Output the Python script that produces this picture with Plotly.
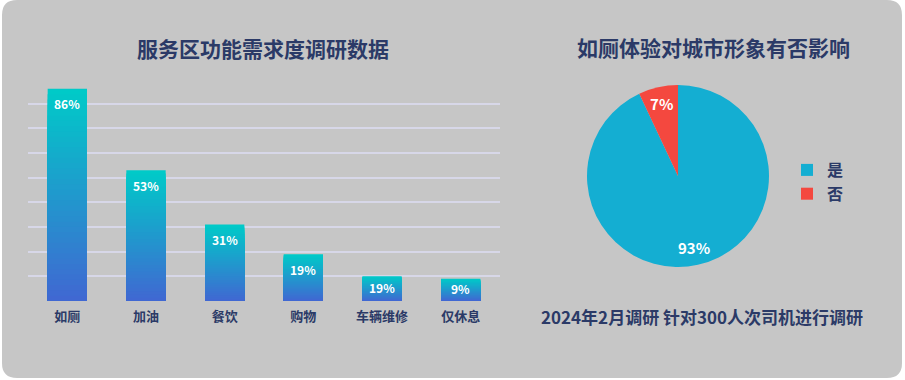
import math
import plotly.graph_objects as go

# ---------------- data ----------------
categories = ["如厕", "加油", "餐饮", "购物", "车辆维修", "仅休息"]
bar_values = [86, 53, 31, 19, 10, 9]
bar_labels = ["86%", "53%", "31%", "19%", "19%", "9%"]
y_ticks = [0, 10, 20, 30, 40, 50, 60, 70, 80, 90]

pie_labels = ["是", "否"]
pie_values = [93, 7]
pie_text = ["93%", "7%"]

left_title = "服务区功能需求度调研数据"
right_title = "如厕体验对城市形象有否影响"
subtitle = "2024年2月调研 针对300人次司机进行调研"

# ---------------- styling ----------------
W, H = 905, 380
NAVY = "#2b3a67"
FONT = "Noto Sans CJK SC"
CARD = "#c6c6c6"
GRID = "#d7d7e8"
TOP_C = (0, 202, 200)
BOT_C = (64, 104, 210)

PLOT_TOP, PLOT_BOT = 79, 301
Y_MAX = 90
PX_PER_UNIT = (PLOT_BOT - PLOT_TOP) / Y_MAX

PIE_L, PIE_R, PIE_T, PIE_B = 587, 769, 85, 267


def px_x(p):
    return p / W


def px_y(p):
    return 1 - p / H


fig = go.Figure()

# gradient bars: overlaid layers, each shorter layer a bit bluer
N = 40
for k in range(N):
    f = k / (N - 1)
    col = "rgb({},{},{})".format(*[round(a + (b - a) * f) for a, b in zip(TOP_C, BOT_C)])
    frac = 1 - k / N
    fig.add_trace(go.Bar(
        x=categories, y=[v * frac for v in bar_values],
        marker=dict(color=col, line=dict(width=0)),
        hoverinfo="skip", showlegend=False,
    ))

annotations = []
for c, v, t in zip(categories, bar_values, bar_labels):
    shift = min(15, v * PX_PER_UNIT / 2 - 1)
    annotations.append(dict(
        text=t, x=c, y=v, xref="x", yref="y", showarrow=False,
        xanchor="center", yanchor="middle", yshift=-shift,
        font=dict(color="white", size=12, family=FONT, weight="bold")))

fig.add_trace(go.Pie(
    labels=pie_labels, values=pie_values, sort=False, direction="clockwise",
    rotation=0, text=["", pie_text[1]], textinfo="text", textposition="inside",
    insidetextorientation="horizontal",
    textfont=dict(color="white", size=15, family=FONT, weight="bold"),
    marker=dict(colors=["#14aed2", "#f4483f"], line=dict(width=0)),
    domain=dict(x=[px_x(PIE_L), px_x(PIE_R)], y=[px_y(PIE_B), px_y(PIE_T)]),
    showlegend=True, hoverinfo="skip",
))

# label of the large slice, placed along its mid angle
cx, cy = (PIE_L + PIE_R) / 2, (PIE_T + PIE_B) / 2
rad = (PIE_R - PIE_L) / 2
mid = pie_values[0] / sum(pie_values) / 2 * 2 * math.pi
annotations.append(dict(
    text=pie_text[0], x=px_x(cx + 0.8 * rad * math.sin(mid)),
    y=px_y(cy - 0.8 * rad * math.cos(mid)), xref="paper", yref="paper",
    showarrow=False, xanchor="center", yanchor="middle",
    font=dict(color="white", size=15, family=FONT, weight="bold")))

# rounded card background
r = 15
x0, x1, y0, y1 = 2, 902, 0, 378
rx, ry = r / W, r / H
X0, X1 = px_x(x0), px_x(x1)
Yt, Yb = px_y(y0), px_y(y1)
path = (f"M {X0+rx},{Yt} L {X1-rx},{Yt} Q {X1},{Yt} {X1},{Yt-ry} "
        f"L {X1},{Yb+ry} Q {X1},{Yb} {X1-rx},{Yb} L {X0+rx},{Yb} "
        f"Q {X0},{Yb} {X0},{Yb+ry} L {X0},{Yt-ry} Q {X0},{Yt} {X0+rx},{Yt} Z")

annotations += [
    dict(text=left_title, x=px_x(263), y=px_y(48), xref="paper", yref="paper",
         showarrow=False, xanchor="center", yanchor="middle",
         font=dict(size=21, color=NAVY, family=FONT, weight="bold")),
    dict(text=right_title, x=px_x(713), y=px_y(47), xref="paper", yref="paper",
         showarrow=False, xanchor="center", yanchor="middle",
         font=dict(size=21, color=NAVY, family=FONT, weight="bold")),
    dict(text=subtitle, x=px_x(702), y=px_y(316), xref="paper", yref="paper",
         showarrow=False, xanchor="center", yanchor="middle",
         font=dict(size=17, color=NAVY, family=FONT, weight="bold")),
]

fig.update_layout(
    width=W, height=H,
    margin=dict(l=0, r=0, t=0, b=0),
    paper_bgcolor="white", plot_bgcolor="rgba(0,0,0,0)",
    barmode="overlay", bargap=0.5,
    font=dict(family=FONT, color=NAVY),
    shapes=[dict(type="path", path=path, xref="paper", yref="paper",
                 fillcolor=CARD, line=dict(width=0), layer="below")],
    xaxis=dict(domain=[px_x(28), px_x(500)], showgrid=False, showline=False,
               zeroline=False, ticks="", ticklabelstandoff=6,
               tickfont=dict(size=13, color=NAVY, family=FONT, weight="bold")),
    yaxis=dict(domain=[px_y(PLOT_BOT), px_y(PLOT_TOP)], range=[0, Y_MAX],
               tickvals=y_ticks, showticklabels=False, showgrid=True,
               gridcolor=GRID, gridwidth=1.5, zeroline=False, showline=False),
    legend=dict(x=px_x(787), y=px_y(153), xanchor="left", yanchor="top",
                bgcolor="rgba(0,0,0,0)", tracegroupgap=0,
                font=dict(size=16, color=NAVY, family=FONT, weight="bold")),
    annotations=annotations,
)

fig.write_html("out.html", post_script="document.body.style.margin='0';",
               config={"displayModeBar": False})
